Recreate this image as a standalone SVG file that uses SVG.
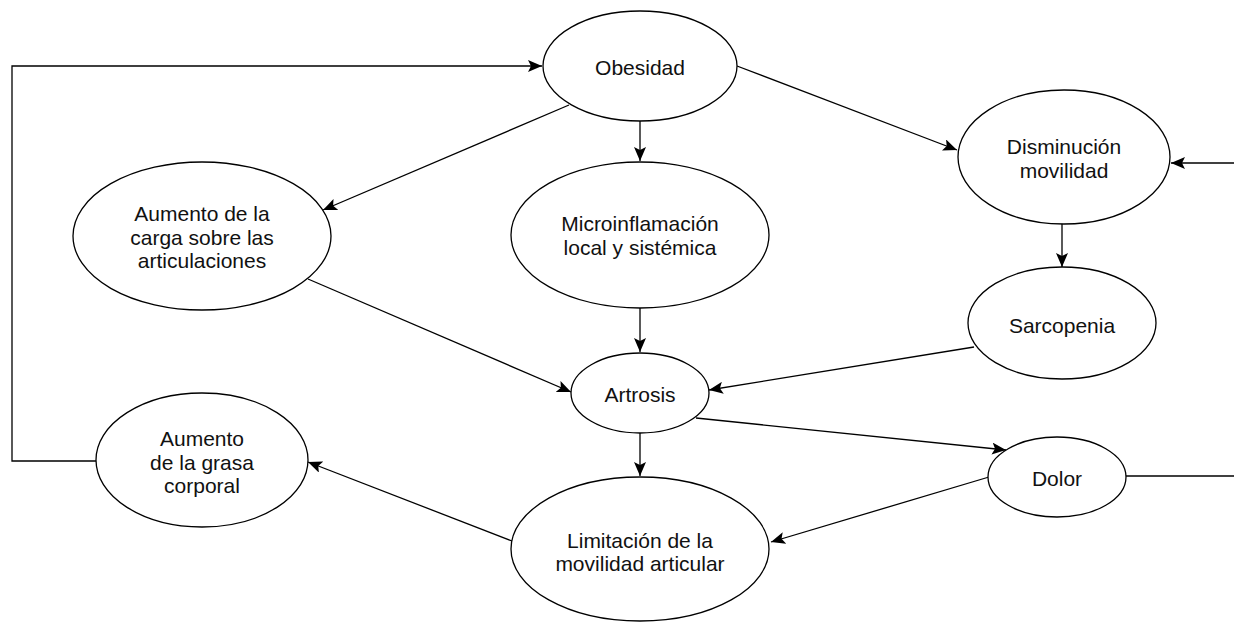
<svg xmlns="http://www.w3.org/2000/svg" width="1234" height="624" viewBox="0 0 1234 624">
<style>
.n ellipse{fill:#fff;stroke:#000;stroke-width:1.3}
.n text{font-family:"Liberation Sans",Arial,sans-serif;font-size:21px;fill:#111;text-anchor:middle;dominant-baseline:central}
.c path{fill:none;stroke:#000;stroke-width:1.3}
</style>
<defs>
<marker id="ah" markerUnits="userSpaceOnUse" markerWidth="15" markerHeight="12" refX="14" refY="6" orient="auto">
<path d="M0,0 L14,6 L0,12 L3,6 Z" fill="#000"/>
</marker>
</defs>
<rect width="1234" height="624" fill="#fff"/>
<g class="c" id="connectors">
<path d="M96,461 H12 V66 H542" marker-end="url(#ah)"/>
<path d="M569,105 L323,210" marker-end="url(#ah)"/>
<path d="M640,121 V161" marker-end="url(#ah)"/>
<path d="M737,66 L957,150" marker-end="url(#ah)"/>
<path d="M1234,163 H1171" marker-end="url(#ah)"/>
<path d="M1062,223 V267" marker-end="url(#ah)"/>
<path d="M308,279 L571,392" marker-end="url(#ah)"/>
<path d="M640,308 V352" marker-end="url(#ah)"/>
<path d="M974,347 L709,390" marker-end="url(#ah)"/>
<path d="M696,418 L1006,450" marker-end="url(#ah)"/>
<path d="M640,433 V476" marker-end="url(#ah)"/>
<path d="M1126,476 H1234"/>
<path d="M989,477 L771,542" marker-end="url(#ah)"/>
<path d="M512,541 L308,462" marker-end="url(#ah)"/>
</g>
<g class="n" id="obesidad"><ellipse cx="640" cy="66" rx="97" ry="55"/><text x="640" y="67">Obesidad</text></g>
<g class="n" id="aumento-carga"><ellipse cx="202" cy="236" rx="129" ry="74"/><text x="202" y="213">Aumento de la</text><text x="202" y="237">carga sobre las</text><text x="202" y="260">articulaciones</text></g>
<g class="n" id="microinflamacion"><ellipse cx="640" cy="235" rx="129" ry="73"/><text x="640" y="223">Microinflamación</text><text x="640" y="247">local y sistémica</text></g>
<g class="n" id="disminucion"><ellipse cx="1064" cy="157" rx="106" ry="67"/><text x="1064" y="146">Disminución</text><text x="1064" y="170">movilidad</text></g>
<g class="n" id="sarcopenia"><ellipse cx="1062" cy="323" rx="94" ry="56"/><text x="1062" y="325">Sarcopenia</text></g>
<g class="n" id="artrosis"><ellipse cx="640" cy="393" rx="69" ry="40"/><text x="640" y="394">Artrosis</text></g>
<g class="n" id="dolor"><ellipse cx="1057" cy="477" rx="69" ry="40"/><text x="1057" y="478">Dolor</text></g>
<g class="n" id="aumento-grasa"><ellipse cx="202" cy="460" rx="106" ry="67"/><text x="202" y="438">Aumento</text><text x="202" y="462">de la grasa</text><text x="202" y="485">corporal</text></g>
<g class="n" id="limitacion"><ellipse cx="640" cy="549" rx="129" ry="72"/><text x="640" y="540">Limitación de la</text><text x="640" y="563">movilidad articular</text></g>
</svg>
